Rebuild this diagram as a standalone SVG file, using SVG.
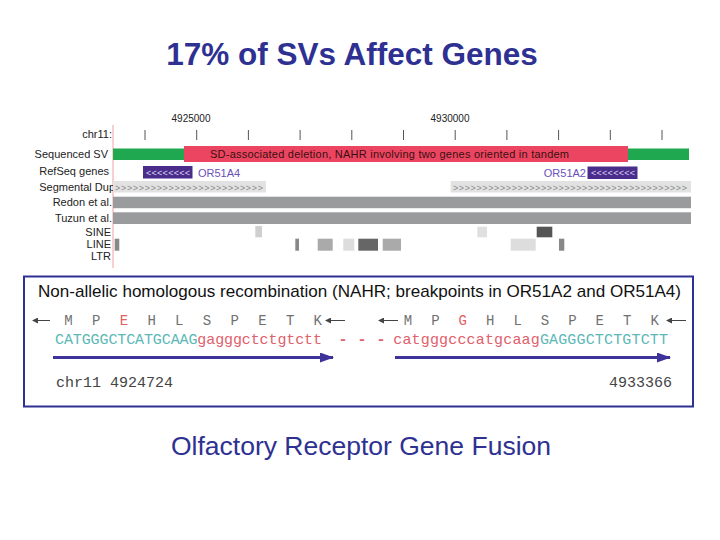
<svg xmlns="http://www.w3.org/2000/svg" width="720" height="540" viewBox="0 0 720 540">
<style>
.lbl{font-family:"Liberation Sans",Arial,sans-serif;font-size:11px;fill:#222;text-anchor:end}
.num{font-family:"Liberation Sans",Arial,sans-serif;font-size:10px;fill:#222;text-anchor:middle}
.tick{stroke:#555;stroke-width:1}
.gene{fill:#4a2c8a}
.chev{font-family:"Liberation Sans",Arial,sans-serif;font-size:9px;fill:#d9d0f2}
.glab{font-family:"Liberation Sans",Arial,sans-serif;font-size:11px;fill:#6b4fbb}
.seg{fill:#e2e2e2}
.segc{font-family:"Liberation Sans",Arial,sans-serif;font-size:9px;fill:#8a8a8a}
.cnv{fill:#9a9b9d}
.aa{font-family:"Liberation Mono","Courier New",monospace;font-size:14px;fill:#707070;text-anchor:middle}
.aar{fill:#e06060}
.up{fill:#5cb8b6}
.lo{fill:#e0606c}
.seq{font-family:"Liberation Mono","Courier New",monospace;font-size:15px}
.coord{font-family:"Liberation Mono","Courier New",monospace;font-size:15px;fill:#444}
.small{stroke:#444;stroke-width:1}
.big{stroke:#3d3399;stroke-width:3}
</style>
<defs>
<marker id="ah" markerWidth="6" markerHeight="6" refX="5" refY="3" orient="auto" markerUnits="userSpaceOnUse"><path d="M0,0 L6,3 L0,6 z" fill="#444"/></marker>
<marker id="bh" markerWidth="14" markerHeight="10" refX="13" refY="5" orient="auto" markerUnits="userSpaceOnUse"><path d="M0,0 L14,5 L0,10 z" fill="#3d3399"/></marker>
</defs>
<rect width="720" height="540" fill="#fff"/>
<g id="title"><text x="352" y="65" font-family="Liberation Sans,Arial,sans-serif" font-size="31.5" font-weight="bold" fill="#2e3192" text-anchor="middle">17% of SVs Affect Genes</text></g>

<g id="browser">
<line x1="113" y1="125" x2="113" y2="268" stroke="#f0a0a0" stroke-width="1"/>
<text class="num" x="191" y="122">4925000</text>
<text class="num" x="450" y="122">4930000</text>
<text class="lbl" x="112" y="138">chr11:</text>
<g class="tick">
<line x1="145" y1="130" x2="145" y2="140"/><line x1="196.7" y1="130" x2="196.7" y2="140"/><line x1="248.4" y1="130" x2="248.4" y2="140"/><line x1="300.1" y1="130" x2="300.1" y2="140"/><line x1="351.8" y1="130" x2="351.8" y2="140"/><line x1="403.5" y1="130" x2="403.5" y2="140"/><line x1="455.2" y1="130" x2="455.2" y2="140"/><line x1="506.9" y1="130" x2="506.9" y2="140"/><line x1="558.6" y1="130" x2="558.6" y2="140"/><line x1="610.3" y1="130" x2="610.3" y2="140"/><line x1="662" y1="130" x2="662" y2="140"/>
</g>
<g id="sv">
<text class="lbl" x="108" y="158">Sequenced SV</text>
<rect x="113" y="148.5" width="72" height="11.5" fill="#1fa84f"/>
<rect x="628" y="148.5" width="61" height="11.5" fill="#1fa84f"/>
<rect x="184" y="146" width="444" height="16" fill="#ec4561"/>
<text x="210" y="158" font-family="Liberation Sans,Arial,sans-serif" font-size="11" fill="#3a1010" textLength="359">SD-associated deletion, NAHR involving two genes oriented in tandem</text>
</g>
<g id="refseq">
<text class="lbl" x="109" y="175">RefSeq genes</text>
<rect class="gene" x="143" y="166" width="49.5" height="12.5"/>
<text class="chev" x="146" y="175.5" textLength="44">&lt;&lt;&lt;&lt;&lt;&lt;&lt;&lt;</text>
<text class="glab" x="198" y="177">OR51A4</text>
<rect class="gene" x="587.5" y="166.5" width="50" height="12.5"/>
<text class="chev" x="591" y="176" textLength="44">&lt;&lt;&lt;&lt;&lt;&lt;&lt;&lt;</text>
<text class="glab" x="586" y="177" text-anchor="end">OR51A2</text>
</g>
<g id="segdup">
<text class="lbl" x="115" y="191">Segmental Dup</text>
<rect class="seg" x="113" y="181" width="153" height="11.5"/>
<text class="segc" x="115" y="190.5" textLength="148">&gt;&gt;&gt;&gt;&gt;&gt;&gt;&gt;&gt;&gt;&gt;&gt;&gt;&gt;&gt;&gt;&gt;&gt;&gt;&gt;&gt;&gt;&gt;&gt;&gt;</text>
<rect class="seg" x="450.7" y="181" width="240.3" height="11.5"/>
<text class="segc" x="453" y="190.5" textLength="234">&gt;&gt;&gt;&gt;&gt;&gt;&gt;&gt;&gt;&gt;&gt;&gt;&gt;&gt;&gt;&gt;&gt;&gt;&gt;&gt;&gt;&gt;&gt;&gt;&gt;&gt;&gt;&gt;&gt;&gt;&gt;&gt;&gt;&gt;&gt;&gt;&gt;&gt;&gt;&gt;</text>
</g>
<g id="redon">
<text class="lbl" x="112" y="206">Redon et al.</text>
<rect class="cnv" x="113" y="196.7" width="578" height="11.5"/>
</g>
<g id="tuzun">
<text class="lbl" x="112" y="222">Tuzun et al.</text>
<rect class="cnv" x="113" y="212.3" width="578" height="11.7"/>
</g>
<g id="sine">
<text class="lbl" x="111" y="236">SINE</text>
<rect x="255.3" y="226" width="6.7" height="11.3" fill="#cfcfcf"/>
<rect x="477.3" y="226.7" width="9.7" height="10.6" fill="#e0e0e0"/>
<rect x="536.7" y="226.7" width="15.6" height="10.6" fill="#555"/>
</g>
<g id="line">
<text class="lbl" x="111" y="248">LINE</text>
<rect x="114.7" y="238.7" width="4.6" height="12" fill="#888"/>
<rect x="295.3" y="238.7" width="3.7" height="12" fill="#888"/>
<rect x="317.7" y="238.7" width="15" height="12" fill="#aaa"/>
<rect x="343.3" y="238.7" width="11" height="12" fill="#ddd"/>
<rect x="358.3" y="238.7" width="19.7" height="12" fill="#666"/>
<rect x="382.7" y="238.7" width="18.3" height="12" fill="#aaa"/>
<rect x="510.7" y="238.7" width="25" height="12" fill="#ddd"/>
<rect x="559" y="238.7" width="5.3" height="12" fill="#888"/>
</g>
<g id="ltr"><text class="lbl" x="111" y="260">LTR</text></g>
</g>

<g id="nahr-box">
<rect x="24" y="276.5" width="669" height="130" fill="#fff" stroke="#2e3192" stroke-width="2"/>
<text x="38" y="297" font-family="Liberation Sans,Arial,sans-serif" font-size="17" fill="#111" textLength="643" lengthAdjust="spacingAndGlyphs">Non-allelic homologous recombination (NAHR; breakpoints in OR51A2 and OR51A4)</text>
</g>

<g id="left-seq">
<text class="aa" x="68.5" y="325">M</text><text class="aa" x="96.2" y="325">P</text><text class="aa aar" x="123.9" y="325">E</text><text class="aa" x="151.6" y="325">H</text><text class="aa" x="179.3" y="325">L</text><text class="aa" x="207" y="325">S</text><text class="aa" x="234.7" y="325">P</text><text class="aa" x="262.4" y="325">E</text><text class="aa" x="290.1" y="325">T</text><text class="aa" x="317.7" y="325">K</text>
<text class="seq" x="55" y="343.5" textLength="267"><tspan class="up">CATGGGCTCATGCAAG</tspan><tspan class="lo">gagggctctgtctt</tspan></text>
<text class="seq lo" x="343" y="343.5" text-anchor="middle" font-weight="bold">-</text><text class="seq lo" x="362" y="343.5" text-anchor="middle" font-weight="bold">-</text><text class="seq lo" x="381" y="343.5" text-anchor="middle" font-weight="bold">-</text>
<text class="coord" x="56" y="387">chr11 4924724</text>
</g>
<g id="right-seq">
<text class="aa" x="408" y="325">M</text><text class="aa" x="435.4" y="325">P</text><text class="aa aar" x="462.8" y="325">G</text><text class="aa" x="490.2" y="325">H</text><text class="aa" x="517.6" y="325">L</text><text class="aa" x="545" y="325">S</text><text class="aa" x="572.4" y="325">P</text><text class="aa" x="599.8" y="325">E</text><text class="aa" x="627.2" y="325">T</text><text class="aa" x="654.6" y="325">K</text>
<text class="seq" x="393.3" y="343.5" textLength="274.7"><tspan class="lo">catgggcccatgcaag</tspan><tspan class="up">GAGGGCTCTGTCTT</tspan></text>
<text class="coord" x="672" y="387" text-anchor="end">4933366</text>
</g>

<g id="connectors">
<line class="small" x1="50" y1="320.5" x2="33" y2="320.5" marker-end="url(#ah)"/>
<line class="small" x1="345" y1="320.5" x2="326" y2="320.5" marker-end="url(#ah)"/>
<line class="small" x1="398" y1="320.5" x2="379" y2="320.5" marker-end="url(#ah)"/>
<line class="small" x1="686" y1="320.5" x2="667" y2="320.5" marker-end="url(#ah)"/>
<line class="big" x1="53" y1="357.5" x2="333" y2="357.5" marker-end="url(#bh)"/>
<line class="big" x1="395" y1="357.5" x2="670" y2="357.5" marker-end="url(#bh)"/>
</g>

<g id="subtitle"><text x="361" y="455" font-family="Liberation Sans,Arial,sans-serif" font-size="26.5" fill="#2e3192" text-anchor="middle">Olfactory Receptor Gene Fusion</text></g>
</svg>
